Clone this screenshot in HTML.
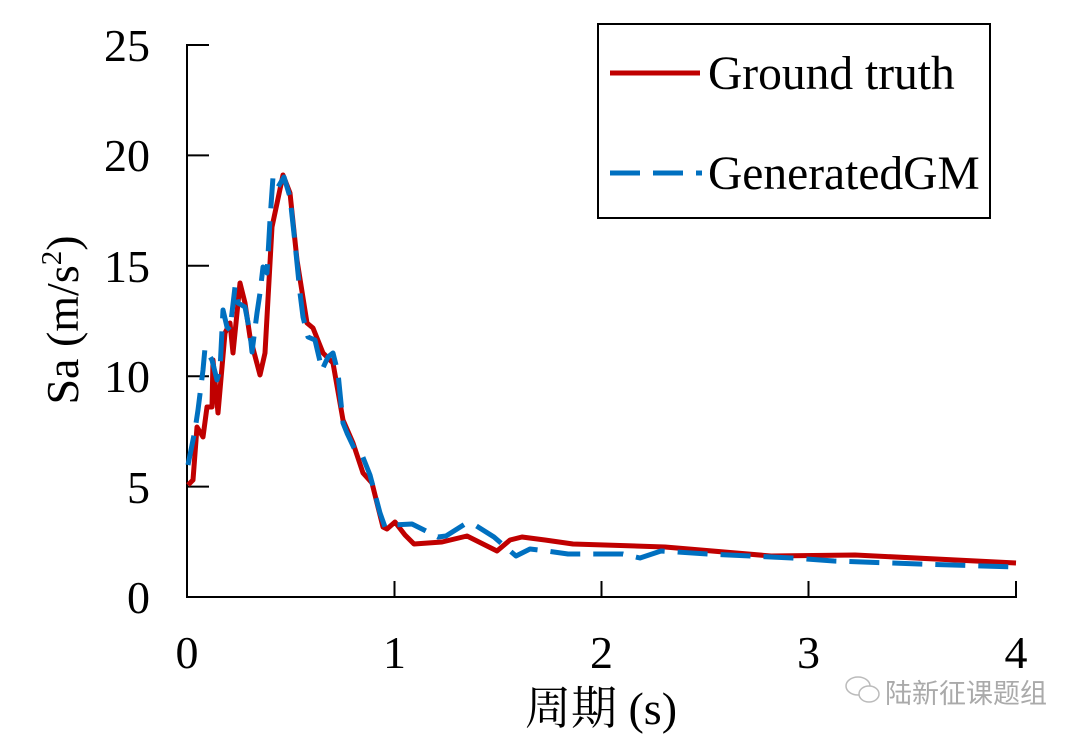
<!DOCTYPE html>
<html><head><meta charset="utf-8"><style>
html,body{margin:0;padding:0;background:#fff;}
svg{display:block}
text{font-family:"Liberation Serif","Noto Serif CJK SC",serif;fill:#000}
</style></head><body>
<svg width="1080" height="742" viewBox="0 0 1080 742" xmlns="http://www.w3.org/2000/svg">
<g stroke="#000" stroke-width="2" fill="none">
<line x1="187" y1="44" x2="187" y2="597"/>
<line x1="186" y1="597" x2="1017" y2="597"/>
<line x1="187" y1="486.6" x2="209" y2="486.6"/>
<line x1="187" y1="376.2" x2="209" y2="376.2"/>
<line x1="187" y1="265.8" x2="209" y2="265.8"/>
<line x1="187" y1="155.4" x2="209" y2="155.4"/>
<line x1="187" y1="45" x2="209" y2="45"/>
<line x1="394.5" y1="597" x2="394.5" y2="581"/>
<line x1="601.5" y1="597" x2="601.5" y2="581"/>
<line x1="808.5" y1="597" x2="808.5" y2="581"/>
<line x1="1016" y1="597" x2="1016" y2="581"/>
</g>
<g font-size="46" text-anchor="end">
<text x="150" y="613">0</text>
<text x="150" y="503">5</text>
<text x="150" y="392">10</text>
<text x="150" y="282">15</text>
<text x="150" y="171">20</text>
<text x="150" y="61">25</text>
</g>
<g font-size="46" text-anchor="middle">
<text x="187" y="668">0</text>
<text x="394.5" y="668">1</text>
<text x="601.5" y="668">2</text>
<text x="808.5" y="668">3</text>
<text x="1016" y="668">4</text>
<text x="601" y="724">周期 (s)</text>
</g>
<text transform="translate(78,320) rotate(-90)" font-size="46" text-anchor="middle">Sa (m/s<tspan font-size="29" dy="-17">2</tspan><tspan dy="17">)</tspan></text>
<polyline fill="none" stroke="#c00000" stroke-width="5" stroke-linejoin="round" points="188,485 193,480 197,427 203,437 207,407 212,407 213,360 218,413 225,333 230,323 233,353 240,283 245,303 250,337 260,375 265,353 272,227 283,175 290,193 297,260 307,323 313,328 323,353 333,363 343,420 353,443 363,473 372,483 383,527 387,529 395,522 405,535 414,544 442,542 467,536 497,551 510,540 522,537 545,540 573,544 665,547 771,556 855,555 1016,563"/>
<polyline fill="none" stroke="#0070c0" stroke-width="5" stroke-dasharray="30,13" stroke-linejoin="round" points="188,465 195,430 198,410 203,370 205,348 212,360 217,380 220,370 223,310 227,327 230,330 235,287 238,303 245,307 250,333 252,352 257,313 260,293 263,267 267,273 270,220 273,177 278,187 284,177 290,197 295,243 300,293 303,317 308,337 315,340 322,370 328,357 333,353 338,373 343,423 347,433 355,450 362,455 370,475 380,513 385,527 393,525 412,524 438,537 446,536 465,524 475,525 494,537 516,556 530,549 547,551 568,554 623,554 640,558 661,551 708,554 792,558 834,561 919,564 1016,567"/>
<rect x="598" y="24" width="392" height="194" fill="#fff" stroke="#000" stroke-width="2"/>
<line x1="610" y1="73" x2="700" y2="73" stroke="#c00000" stroke-width="5"/>
<text x="708" y="89" font-size="47.5">Ground truth</text>
<line x1="610" y1="173" x2="702" y2="173" stroke="#0070c0" stroke-width="5" stroke-dasharray="30,13"/>
<text x="708" y="189" font-size="47.5">GeneratedGM</text>
<g fill="none" stroke="#bbb" stroke-width="1.5">
<ellipse cx="858" cy="686" rx="12" ry="9"/>
<ellipse cx="869" cy="694" rx="10" ry="8" fill="#fff"/>
</g>
<text x="885" y="703" font-size="27" style="font-family:'Noto Sans CJK SC',sans-serif;fill:#aaa">陆新征课题组</text>
</svg>
</body></html>
